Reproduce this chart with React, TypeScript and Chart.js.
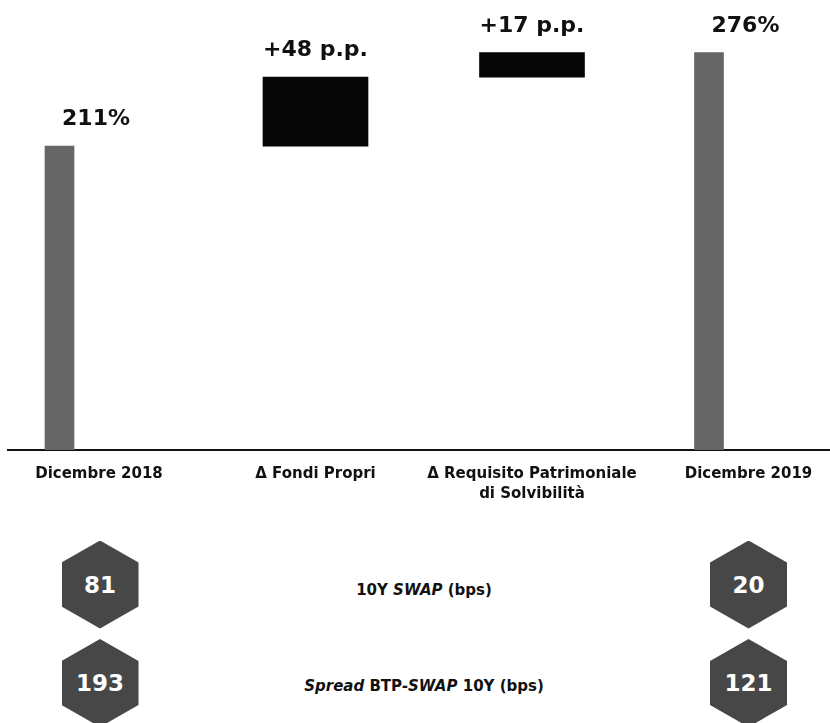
import React, { useEffect, useRef } from "react";
import { Chart, registerables } from "chart.js";

Chart.register(...registerables);

// ---- data ----
const categories: string[][] = [
  ["Dicembre 2018"],
  ["Δ Fondi Propri"],
  ["Δ Requisito Patrimoniale", "di Solvibilità"],
  ["Dicembre 2019"],
];
const totals: (number | null)[] = [211, null, null, 276]; // Solvency II ratio, %
const deltas: (number | null)[] = [null, 48, 17, null]; // p.p.
const swap10y: number[] = [81, 20]; // bps, Dic 2018 / Dic 2019
const spreadBtpSwap10y: number[] = [193, 121]; // bps, Dic 2018 / Dic 2019

// ---- styles / layout ----
const FONT = '"DejaVu Sans", sans-serif';
const GREY = "#666666";
const BLACK = "#060606";
const HEX = "#474747";
const TEXT = "#111111";
const X_MIN = -0.4203;
const X_MAX = 3.3765;
const GREY_SHIFT = 0.1824;

function valueLabel(i: number): string {
  if (totals[i] != null) return `${totals[i]}%`;
  return `+${deltas[i]} p.p.`;
}

const valueLabelsPlugin = {
  id: "valueLabels",
  afterDatasetsDraw(chart: any) {
    const ctx = chart.ctx;
    ctx.save();
    ctx.font = `bold 22px ${FONT}`;
    ctx.fillStyle = TEXT;
    ctx.textAlign = "center";
    ctx.textBaseline = "alphabetic";
    chart.data.datasets.forEach((ds: any, di: number) => {
      const meta = chart.getDatasetMeta(di);
      meta.data.forEach((el: any, j: number) => {
        const idx = ds.data[j].x;
        const p = el.getProps(["x", "y", "base"], true);
        const top = Math.min(p.y, p.base);
        const x = di === 0 ? chart.scales.x.getPixelForValue(idx) - 3 : p.x;
        ctx.fillText(valueLabel(idx), x, top - 21);
      });
    });
    ctx.restore();
  },
};

const categoryTicks = (scale: any) => {
  scale.ticks = categories.map((_, i) => ({ value: i }));
};
const noSidePadding = (scale: any) => {
  scale.paddingLeft = 0;
  scale.paddingRight = 0;
};

function Hexagon({ cx, cy, value }: { cx: number; cy: number; value: number }) {
  const w = 77;
  const h = 88;
  return (
    <div
      style={{
        position: "absolute",
        left: cx - w / 2,
        top: cy - h / 2,
        width: w,
        height: h,
        background: HEX,
        clipPath: "polygon(50% 0, 100% 25%, 100% 75%, 50% 100%, 0 75%, 0 25%)",
        display: "flex",
        alignItems: "center",
        justifyContent: "center",
        color: "#ffffff",
        font: `bold 23px ${FONT}`,
      }}
    >
      {value}
    </div>
  );
}

export default function App() {
  const canvasRef = useRef<HTMLCanvasElement | null>(null);

  useEffect(() => {
    if (!canvasRef.current) return;
    const greyData: any[] = [];
    const blackData: any[] = [];
    let running = 0;
    categories.forEach((_, i) => {
      if (totals[i] != null) {
        running = totals[i] as number;
        greyData.push({ x: i, y: running });
      } else {
        const start = running;
        running = start + (deltas[i] as number);
        blackData.push({ x: i, y: [start, running] });
      }
    });

    const chart = new Chart(canvasRef.current, {
      type: "bar",
      data: {
        datasets: [
          {
            data: greyData,
            xAxisID: "xg",
            yAxisID: "y",
            backgroundColor: GREY,
            barThickness: 29,
            grouped: false,
            borderWidth: 0,
          } as any,
          {
            data: blackData,
            xAxisID: "x",
            yAxisID: "y",
            backgroundColor: BLACK,
            barThickness: 105,
            grouped: false,
            borderWidth: 0,
          } as any,
        ],
      },
      options: {
        animation: false,
        responsive: false,
        layout: { padding: { left: 8, right: 0, top: 18, bottom: 2 } },
        plugins: { legend: { display: false }, tooltip: { enabled: false } },
        scales: {
          x: {
            type: "linear",
            position: "bottom",
            offset: false,
            bounds: "data",
            min: X_MIN,
            max: X_MAX,
            afterBuildTicks: categoryTicks,
            afterFit: noSidePadding,
            grid: { display: false, drawTicks: false, offset: false },
            border: { display: true, color: TEXT, width: 2 },
            ticks: {
              autoSkip: false,
              maxRotation: 0,
              minRotation: 0,
              padding: 14,
              color: TEXT,
              font: { family: FONT, size: 15, weight: "bold", lineHeight: 1.33 },
              callback: (v: any) =>
                Number.isInteger(v) && categories[v] ? categories[v] : "",
            },
          },
          xg: {
            type: "linear",
            axis: "x",
            position: "bottom",
            display: false,
            offset: false,
            bounds: "data",
            min: X_MIN + GREY_SHIFT,
            max: X_MAX + GREY_SHIFT,
            afterBuildTicks: categoryTicks,
            afterFit: noSidePadding,
            grid: { offset: false },
          },
          y: {
            type: "linear",
            display: false,
            bounds: "data",
            min: 0,
            max: 300,
          },
        } as any,
      },
      plugins: [valueLabelsPlugin],
    } as any);
    return () => chart.destroy();
  }, []);

  const leftX = 100;
  const rightX = 748.5;
  const row1 = 584.5;
  const row2 = 683;

  const labelStyle: React.CSSProperties = {
    position: "absolute",
    left: 224,
    width: 400,
    textAlign: "center",
    font: `bold 15px ${FONT}`,
    color: TEXT,
    lineHeight: "20px",
    whiteSpace: "nowrap",
  };

  return (
    <div
      style={{
        position: "relative",
        width: 830,
        height: 723,
        overflow: "hidden",
        background: "#ffffff",
        fontFamily: FONT,
      }}
    >
      <style>{"body{margin:0}"}</style>
      <canvas
        ref={canvasRef}
        width={830}
        height={520}
        style={{ position: "absolute", left: 0, top: 0, width: 830, height: 520 }}
      />
      <Hexagon cx={leftX} cy={row1} value={swap10y[0]} />
      <Hexagon cx={rightX} cy={row1} value={swap10y[1]} />
      <Hexagon cx={leftX} cy={row2} value={spreadBtpSwap10y[0]} />
      <Hexagon cx={rightX} cy={row2} value={spreadBtpSwap10y[1]} />
      <div style={{ ...labelStyle, top: 590 - 10 }}>
        10Y <i>SWAP</i> (bps)
      </div>
      <div style={{ ...labelStyle, top: 686 - 10 }}>
        <i>Spread</i> BTP-<i>SWAP</i> 10Y (bps)
      </div>
    </div>
  );
}
